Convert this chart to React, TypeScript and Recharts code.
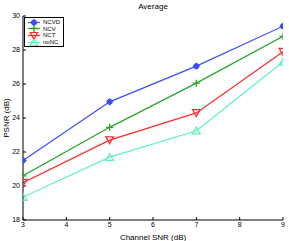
import React from 'react';
import { LineChart, Line, XAxis, YAxis, Legend } from 'recharts';

const snr = [3, 5, 7, 9];
const ncvd = [21.5, 24.95, 27.05, 29.4];
const ncv = [20.6, 23.45, 26.05, 28.8];
const nct = [20.2, 22.7, 24.3, 27.9];
const nonc = [19.35, 21.7, 23.25, 27.3];
const xTicks = [3, 4, 5, 6, 7, 8, 9];
const yTicks = [18, 20, 22, 24, 26, 28, 30];

const series = [
  { key: 'NCVD', values: ncvd, color: '#3b4ff6', shape: 'circle' },
  { key: 'NCV', values: ncv, color: '#26a526', shape: 'plus' },
  { key: 'NCT', values: nct, color: '#ff2a2a', shape: 'down' },
  { key: 'noNC', values: nonc, color: '#5ef2b6', shape: 'up' },
];

const data = snr.map((x, i) => {
  const row: any = { x };
  series.forEach((s) => (row[s.key] = s.values[i]));
  return row;
});

const Marker = ({ cx, cy, shape, color }: any) => {
  if (cx == null || cy == null) return null;
  if (shape === 'circle')
    return (
      <g>
        <circle cx={cx} cy={cy} r={2.6} fill={color} stroke={color} />
        <path d={`M${cx - 3.5},${cy}H${cx + 3.5}M${cx},${cy - 3.5}V${cy + 3.5}`} stroke={color} strokeWidth={1} />
      </g>
    );
  if (shape === 'plus')
    return <path d={`M${cx - 3.5},${cy}H${cx + 3.5}M${cx},${cy - 3.5}V${cy + 3.5}`} stroke={color} strokeWidth={1.3} fill="none" />;
  if (shape === 'down')
    return (
      <polygon
        points={`${cx - 3.8},${cy - 3.2} ${cx + 3.8},${cy - 3.2} ${cx},${cy + 3.6}`}
        stroke={color}
        strokeWidth={1.3}
        fill="none"
      />
    );
  return (
    <polygon
      points={`${cx - 3.8},${cy + 3.2} ${cx + 3.8},${cy + 3.2} ${cx},${cy - 3.6}`}
      stroke={color}
      strokeWidth={1.3}
      fill="none"
    />
  );
};

const LegendBox = () => (
  <div
    style={{
      border: '1px solid #000',
      background: '#fff',
      padding: '1px 3px 1px 2px',
      fontFamily: 'Liberation Sans, Arial, sans-serif',
      fontSize: 6,
      lineHeight: '6.5px',
    }}
  >
    {series.map((s) => (
      <div key={s.key} style={{ display: 'flex', alignItems: 'center', height: 6.6 }}>
        <svg width={14} height={7} style={{ display: 'block' }}>
          <line x1={1} y1={3.5} x2={13} y2={3.5} stroke={s.color} strokeWidth={1.2} />
          <Marker cx={7} cy={3.5} shape={s.shape} color={s.color} />
        </svg>
        <span style={{ marginLeft: 2 }}>{s.key}</span>
      </div>
    ))}
  </div>
);

const tickStyle = { fontSize: 7, fill: '#000', fontFamily: 'Liberation Sans, Arial, sans-serif' };

export default function App() {
  return (
    <div style={{ position: 'absolute', left: 0, top: 0, width: 289, height: 241, background: '#fff' }}>
      <div
        style={{
          position: 'absolute',
          left: 23,
          width: 260,
          top: 2,
          textAlign: 'center',
          fontFamily: 'Liberation Sans, Arial, sans-serif',
          fontSize: 8,
        }}
      >
        Average
      </div>
      <LineChart width={289} height={241} data={data} margin={{ top: 16, right: 6, bottom: 0, left: 0 }}>
        <XAxis
          dataKey="x"
          type="number"
          domain={[3, 9]}
          ticks={xTicks}
          allowDataOverflow
          height={21}
          tickSize={-3}
          tickMargin={5}
          tick={tickStyle}
          axisLine={{ stroke: '#000' }}
          tickLine={{ stroke: '#000' }}
          label={{
            value: 'Channel SNR (dB)',
            position: 'insideBottom',
            offset: 1,
            style: { fontSize: 8, fill: '#000', fontFamily: 'Liberation Sans, Arial, sans-serif' },
          }}
        />
        <XAxis
          xAxisId="top"
          dataKey="x"
          type="number"
          orientation="top"
          domain={[3, 9]}
          ticks={xTicks}
          height={0}
          tickSize={-3}
          tickFormatter={() => ''}
          axisLine={{ stroke: '#000' }}
          tickLine={{ stroke: '#000' }}
        />
        <YAxis
          type="number"
          domain={[18, 30]}
          ticks={yTicks}
          width={23}
          tickSize={-3}
          tickMargin={6}
          tick={tickStyle}
          axisLine={{ stroke: '#000' }}
          tickLine={{ stroke: '#000' }}
          label={{
            value: 'PSNR (dB)',
            angle: -90,
            position: 'insideLeft',
            offset: 6,
            style: { textAnchor: 'middle', fontSize: 8, fill: '#000', fontFamily: 'Liberation Sans, Arial, sans-serif' },
          }}
        />
        <YAxis
          yAxisId="r"
          orientation="right"
          type="number"
          domain={[18, 30]}
          ticks={yTicks}
          width={0}
          tickSize={-3}
          tickFormatter={() => ''}
          axisLine={{ stroke: '#000' }}
          tickLine={{ stroke: '#000' }}
        />
        <Legend
          layout="vertical"
          align="center"
          verticalAlign="middle"
          content={<LegendBox />}
          wrapperStyle={{ position: 'absolute', left: 24, top: 17, width: 'auto', height: 'auto' }}
        />
        {series.map((s) => (
          <Line
            key={s.key}
            dataKey={s.key}
            stroke={s.color}
            strokeWidth={1.2}
            isAnimationActive={false}
            dot={(p: any) => <Marker key={`${s.key}-${p.index}`} cx={p.cx} cy={p.cy} shape={s.shape} color={s.color} />}
            activeDot={false}
          />
        ))}
      </LineChart>
    </div>
  );
}
